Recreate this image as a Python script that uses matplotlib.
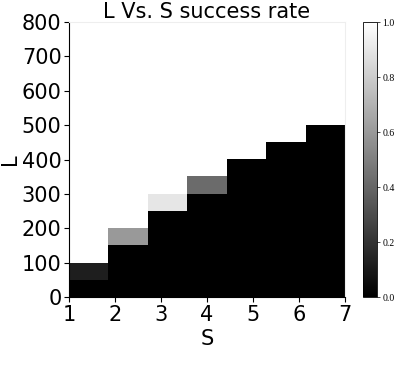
import numpy as np
import matplotlib
matplotlib.use("Agg")
import matplotlib.pyplot as plt

# success rate grid, rows are L bins (0, 50, ... 750), columns are S = 1..7
s_vals = [1, 2, 3, 4, 5, 6, 7]
l_edges = [0, 800]
rate = [
    [0.00, 0.00, 0.00, 0.00, 0.00, 0.00, 0.00],
    [0.12, 0.00, 0.00, 0.00, 0.00, 0.00, 0.00],
    [1.00, 0.00, 0.00, 0.00, 0.00, 0.00, 0.00],
    [1.00, 0.60, 0.00, 0.00, 0.00, 0.00, 0.00],
    [1.00, 1.00, 0.00, 0.00, 0.00, 0.00, 0.00],
    [1.00, 1.00, 0.90, 0.00, 0.00, 0.00, 0.00],
    [1.00, 1.00, 1.00, 0.42, 0.00, 0.00, 0.00],
    [1.00, 1.00, 1.00, 1.00, 0.00, 0.00, 0.00],
    [1.00, 1.00, 1.00, 1.00, 1.00, 0.00, 0.00],
    [1.00, 1.00, 1.00, 1.00, 1.00, 1.00, 0.00],
    [1.00, 1.00, 1.00, 1.00, 1.00, 1.00, 1.00],
    [1.00, 1.00, 1.00, 1.00, 1.00, 1.00, 1.00],
    [1.00, 1.00, 1.00, 1.00, 1.00, 1.00, 1.00],
    [1.00, 1.00, 1.00, 1.00, 1.00, 1.00, 1.00],
    [1.00, 1.00, 1.00, 1.00, 1.00, 1.00, 1.00],
    [1.00, 1.00, 1.00, 1.00, 1.00, 1.00, 1.00],
]
xticks = [1, 2, 3, 4, 5, 6, 7]
yticks = [0, 100, 200, 300, 400, 500, 600, 700, 800]
cbar_ticks = [0.0, 0.2, 0.4, 0.6, 0.8, 1.0]

fig = plt.figure(figsize=(4.02, 3.80), dpi=100)
ax = fig.add_axes([0.172, 0.218, 0.686, 0.724])
cax = fig.add_axes([0.903, 0.218, 0.035, 0.724])

im = ax.imshow(np.array(rate), cmap="gray", vmin=0, vmax=1, origin="lower",
               extent=[s_vals[0], s_vals[-1], l_edges[0], l_edges[1]],
               aspect="auto", interpolation="nearest")
ax.set_xticks(xticks)
ax.set_yticks(yticks)
ax.tick_params(labelsize=15, pad=2)
ax.set_xlabel("S", fontsize=15, labelpad=3)
ax.set_ylabel("L", fontsize=15, labelpad=1)
ax.set_title("L Vs. S success rate", fontsize=15, pad=3)
for side in ["top", "right"]:
    ax.spines[side].set_color("#eeeeee")

cb = fig.colorbar(im, cax=cax, ticks=cbar_ticks)
cb.outline.set_linewidth(0.6)
for t in cax.get_yticklabels():
    t.set_fontfamily("Liberation Serif")
    t.set_fontsize(7)
cax.tick_params(length=2, width=0.5, pad=2)

fig.savefig("out.png", dpi=100)
